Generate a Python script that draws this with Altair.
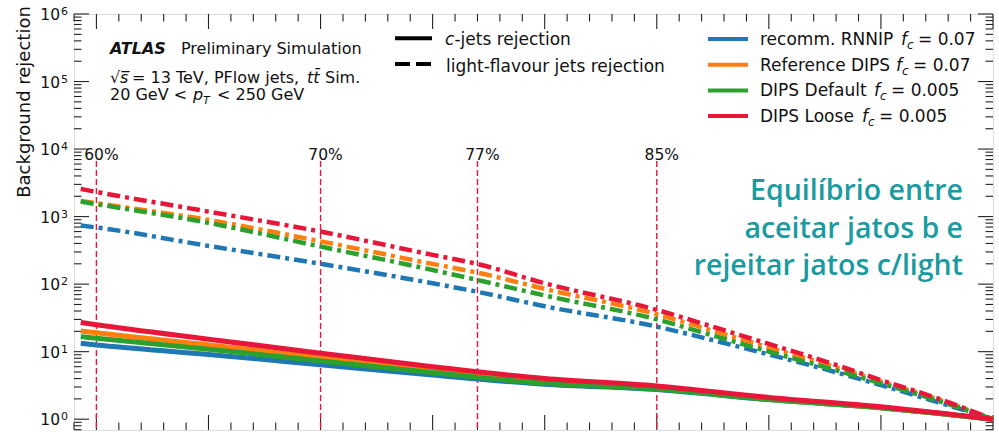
import altair as alt
import pandas as pd

W, H = 919, 416

# ---------------- data ----------------
models = ["recomm. RNNIP", "Reference DIPS", "DIPS Default", "DIPS Loose"]
colors = ["#1f77b4", "#ff7f0e", "#2ca02c", "#e8173a"]
fc_labels = ["= 0.07", "= 0.07", "= 0.005", "= 0.005"]

eff_c = [0.593, 0.60, 0.65, 0.70, 0.75, 0.80, 0.85, 0.90, 0.95, 1.00]
c_rnnip = [13.3, 12.6, 9.1, 6.4, 4.5, 3.3, 2.75, 1.95, 1.48, 1.0]
c_ref = [20.3, 19.0, 12.6, 8.3, 5.5, 3.7, 2.95, 2.0, 1.48, 1.0]
c_default = [16.7, 15.8, 10.9, 7.3, 4.9, 3.4, 2.8, 1.95, 1.48, 1.0]
c_loose = [27.0, 25.0, 15.3, 9.5, 6.0, 4.0, 3.1, 2.1, 1.53, 1.0]

eff_l = [0.593, 0.60, 0.65, 0.70, 0.75, 0.77, 0.80, 0.85, 0.875, 0.90, 0.925, 0.95, 0.975, 1.00]
l_rnnip = [736, 690, 368, 200, 103, 77, 47, 23.5, 14.8, 9.1, 5.5, 3.2, 1.8, 1.0]
l_ref = [1710, 1580, 893, 430, 199, 148, 85, 35.8, 20.4, 11.5, 6.6, 3.6, 2.0, 1.0]
l_default = [1668, 1530, 807, 360, 162, 115, 68, 30, 17.4, 10.0, 5.9, 3.4, 1.9, 1.0]
l_loose = [2570, 2320, 1186, 600, 271, 199, 103, 41.5, 23.4, 13.0, 7.2, 3.8, 2.05, 1.0]

c_series = [c_rnnip, c_ref, c_default, c_loose]
l_series = [l_rnnip, l_ref, l_default, l_loose]

wp_eff = [0.60, 0.70, 0.77, 0.85]
wp_labels = ["60%", "70%", "77%", "85%"]

x_major = [0.60, 0.65, 0.70, 0.75, 0.80, 0.85, 0.90, 0.95, 1.00]
x_minor = [round(0.59 + 0.01 * i, 2) for i in range(42)]
x_minor = [v for v in x_minor if v not in x_major]
y_major = [1, 10, 100, 1000, 10000, 100000, 1000000]
y_exps = ["0", "1", "2", "3", "4", "5", "6"]
y_minor = [k * 10.0 ** d for d in range(-1, 6) for k in range(2, 10)]
y_minor = [v for v in y_minor if 0.692 <= v <= 1e6]

# ---------------- scales ----------------
xs = alt.Scale(domain=[0.59, 1.0], nice=False, zero=False)
ys = alt.Scale(type="log", domain=[0.692, 1e6], nice=False)
dummy = alt.Data(values=[{"a": 1}])
FONT = "DejaVu Sans"

layers = []

# grid (axes without labels)
grid = alt.Chart(pd.DataFrame({"e": eff_l, "r": l_rnnip})).mark_line(opacity=0).encode(
    x=alt.X("e:Q", scale=xs, axis=alt.Axis(values=x_major, grid=True, labels=False, ticks=False,
                                            domain=False, title=None, gridColor="#c4c4c4", gridWidth=1)),
    y=alt.Y("r:Q", scale=ys, axis=alt.Axis(values=y_major, grid=True, labels=False, ticks=False,
                                            domain=False, title=None, gridColor="#c4c4c4", gridWidth=1)),
)
layers.append(grid)

# ticks (inward)
def yticks(vals, x0, x1):
    return alt.Chart(pd.DataFrame({"v": vals})).mark_rule(color="#222", strokeWidth=1.1).encode(
        y=alt.Y("v:Q", scale=ys, axis=None), x=alt.value(x0), x2=alt.value(x1))

def xticks(vals, y0, y1):
    return alt.Chart(pd.DataFrame({"v": vals})).mark_rule(color="#222", strokeWidth=1.1).encode(
        x=alt.X("v:Q", scale=xs, axis=None), y=alt.value(y0), y2=alt.value(y1))

layers += [yticks(y_major, 0, 15), yticks(y_minor, 0, 7.5),
           yticks(y_major, W - 15, W), yticks(y_minor, W - 7.5, W),
           xticks(x_major, H - 15, H), xticks(x_minor, H - 7.5, H),
           xticks(x_major, 0, 15), xticks(x_minor, 0, 7.5)]

# working point lines
wp_df = pd.DataFrame({"e": wp_eff, "lab": wp_labels})
layers.append(alt.Chart(wp_df).mark_rule(color="#e8173a", strokeWidth=1.4, strokeDash=[6, 3]).encode(
    x=alt.X("e:Q", scale=xs, axis=None), y=alt.value(147), y2=alt.value(H)))
layers.append(alt.Chart(wp_df).mark_text(fontSize=15.5, font=FONT, align="center", baseline="alphabetic",
                                         dx=5, color="#111").encode(
    x=alt.X("e:Q", scale=xs, axis=None), y=alt.value(146), text="lab:N"))

# curves
for vals, col in zip(l_series, colors):
    df = pd.DataFrame({"e": eff_l, "r": vals})
    layers.append(alt.Chart(df).mark_line(color=col, strokeWidth=4.5, strokeDash=[13, 5, 4, 5],
                                          interpolate="monotone").encode(
        x=alt.X("e:Q", scale=xs, axis=None), y=alt.Y("r:Q", scale=ys, axis=None)))
for vals, col in zip(c_series, colors):
    df = pd.DataFrame({"e": eff_c, "r": vals})
    layers.append(alt.Chart(df).mark_line(color=col, strokeWidth=5, interpolate="monotone").encode(
        x=alt.X("e:Q", scale=xs, axis=None), y=alt.Y("r:Q", scale=ys, axis=None)))

# y tick labels
ylab = pd.DataFrame({"v": y_major, "b": ["10"] * len(y_major), "ex": y_exps})
layers.append(alt.Chart(ylab).mark_text(fontSize=15.5, font=FONT, align="right", baseline="alphabetic",
                                        dy=6, color="#111").encode(
    x=alt.value(-14), y=alt.Y("v:Q", scale=ys, axis=None), text="b:N"))
layers.append(alt.Chart(ylab).mark_text(fontSize=11, font=FONT, align="left", baseline="alphabetic",
                                        dy=1, color="#111").encode(
    x=alt.value(-13), y=alt.Y("v:Q", scale=ys, axis=None), text="ex:N"))


def txt(s, x, y, size=16, style="normal", weight="normal", color="#111", align="left",
        font=FONT, angle=0, baseline="alphabetic"):
    return alt.Chart(dummy).mark_text(align=align, baseline=baseline, fontSize=size, fontStyle=style,
                                      fontWeight=weight, color=color, font=font, angle=angle).encode(
        x=alt.value(x), y=alt.value(y), text=alt.value(s))


def seg(x0, x1, y, col, width=4, dash=None):
    kw = dict(color=col, strokeWidth=width)
    if dash:
        kw["strokeDash"] = dash
    return alt.Chart(dummy).mark_rule(**kw).encode(x=alt.value(x0), x2=alt.value(x1), y=alt.value(y))


# y title
layers.append(txt("Background rejection", -49, 88, size=18, angle=270, align="center", baseline="middle"))

# ATLAS block
layers += [
    txt("ATLAS", 36, 40.3, size=16, style="italic", weight="bold"),
    txt("Preliminary Simulation", 107, 40.3, size=16),
    txt("\u221a", 36, 69, size=16),
    txt("s\u0305", 46, 69, size=16, style="italic"),
    txt("= 13 TeV, PFlow jets,", 58, 69, size=16),
    txt("tt\u0304", 233, 69, size=16, style="italic"),
    txt("Sim.", 251, 69, size=16),
    txt("20 GeV <", 36, 86, size=16),
    txt("p", 119, 86, size=16, style="italic"),
    txt("T", 129, 90, size=11, style="italic"),
    txt("< 250 GeV", 143, 86, size=16),
]

# line-style legend
layers += [
    seg(321, 358, 24.3, "#000", 4),
    seg(321, 358, 50, "#000", 4, [15, 6]),
    txt("c", 371, 31, size=17, style="italic"),
    txt("-jets rejection", 380.4, 31, size=17),
    txt("light-flavour jets rejection", 372, 57.7, size=17),
]

# colour legend
row_y = [25, 50.7, 76.4, 102.1]
f_x = [827, 822, 800, 788]
for m, col, ly, fx, fl in zip(models, colors, row_y, f_x, fc_labels):
    layers += [
        seg(634, 674, ly, col, 4),
        txt(m, 686, ly + 6, size=17),
        txt("f", fx, ly + 6, size=17, style="italic"),
        txt("c", fx + 6, ly + 10, size=12, style="italic"),
        txt(fl, fx + 17, ly + 6, size=17),
    ]

# teal annotation
TEAL = "#1a9ba1"
for line, by in zip(["Equil\u00edbrio entre", "aceitar jatos b e", "rejeitar jatos c/light"], [186, 224, 261]):
    layers.append(txt(line, 889, by, size=28.5, color=TEAL, align="right", font="Open Sans", weight=600))

chart = alt.layer(*layers).properties(
    width=W, height=H,
    autosize=alt.AutoSizeParams(type="none"),
    padding={"left": 74, "top": 14, "right": 6, "bottom": 2},
).configure_view(stroke="#222", strokeWidth=1.4).configure(background="white")

chart.save("out.html", embed_options={"renderer": "svg", "actions": False})
